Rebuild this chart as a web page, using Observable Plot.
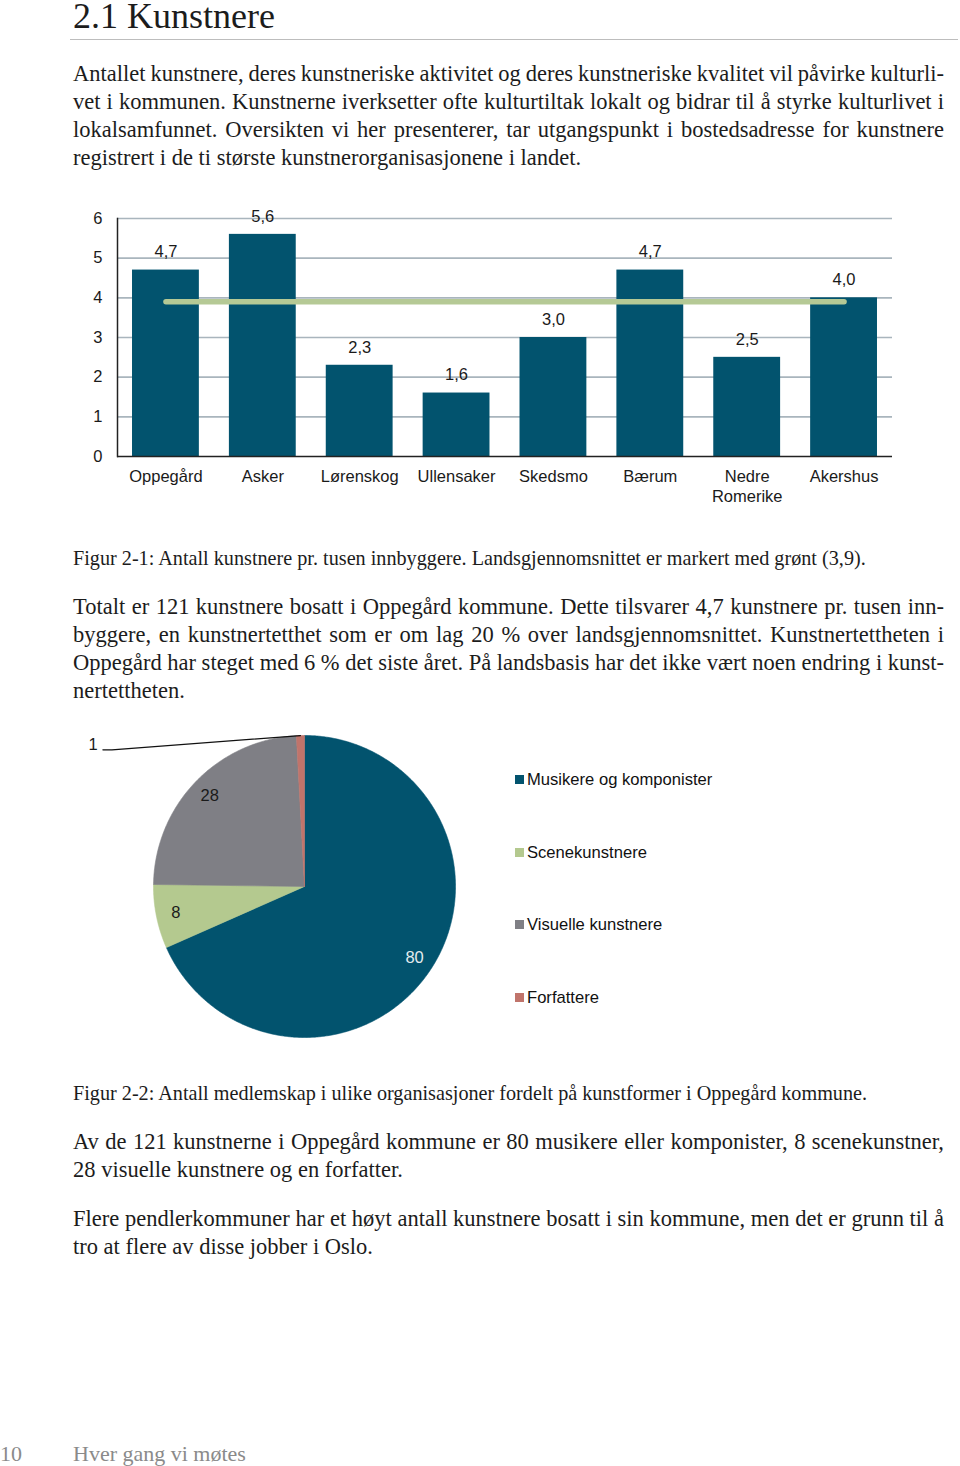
<!DOCTYPE html>
<html><head><meta charset="utf-8">
<script src="https://cdn.jsdelivr.net/npm/d3@7"></script>
<script src="https://cdn.jsdelivr.net/npm/@observablehq/plot@0.6"></script>
<style>
body{margin:0;background:#fff;}
#page{position:relative;width:960px;height:1466px;overflow:hidden;font-family:"Liberation Serif",serif;color:#1c1c1c;}
.ln{position:absolute;left:73px;width:871px;line-height:28px;height:28px;white-space:pre;}
.lg{position:absolute;left:515px;font-family:"Liberation Sans",Arial,sans-serif;font-size:16.6px;color:#111;line-height:20px;white-space:nowrap;}
.lg i{display:inline-block;width:9px;height:9px;margin-right:3px;vertical-align:1px;}
</style></head>
<body><div id="page"></div>
<script>
// ---- data ----
const kommuner = ["Oppegård","Asker","Lørenskog","Ullensaker","Skedsmo","Bærum","Nedre Romerike","Akershus"];
const tickLabels = ["Oppegård","Asker","Lørenskog","Ullensaker","Skedsmo","Bærum","Nedre\nRomerike","Akershus"];
const tetthet = [4.7,5.6,2.3,1.6,3.0,4.7,2.5,4.0];
const landsgjennomsnitt = 3.9;
const yTicks = [0,1,2,3,4,5,6];

const kunstformer = ["Musikere og komponister","Scenekunstnere","Visuelle kunstnere","Forfattere"];
const medlemskap = [80, 8, 28, 1];
const pieColors = ["#02536e","#b4c98f","#7f7f85","#c0746b"];

const title = "2.1 Kunstnere";
const para1 = ["Antallet kunstnere, deres kunstneriske aktivitet og deres kunstneriske kvalitet vil påvirke kulturli-",
"vet i kommunen. Kunstnerne iverksetter ofte kulturtiltak lokalt og bidrar til å styrke kulturlivet i",
"lokalsamfunnet. Oversikten vi her presenterer, tar utgangspunkt i bostedsadresse for kunstnere",
"registrert i de ti største kunstnerorganisasjonene i landet."];
const caption1 = "Figur 2-1: Antall kunstnere pr. tusen innbyggere. Landsgjennomsnittet er markert med grønt (3,9).";
const para2 = ["Totalt er 121 kunstnere bosatt i Oppegård kommune. Dette tilsvarer 4,7 kunstnere pr. tusen inn-",
"byggere, en kunstnertetthet som er om lag 20 % over landsgjennomsnittet. Kunstnertettheten i",
"Oppegård har steget med 6 % det siste året. På landsbasis har det ikke vært noen endring i kunst-",
"nertettheten."];
const caption2 = "Figur 2-2: Antall medlemskap i ulike organisasjoner fordelt på kunstformer i Oppegård kommune.";
const para3 = ["Av de 121 kunstnerne i Oppegård kommune er 80 musikere eller komponister, 8 scenekunstner,",
"28 visuelle kunstnere og en forfatter."];
const para4 = ["Flere pendlerkommuner har et høyt antall kunstnere bosatt i sin kommune, men det er grunn til å",
"tro at flere av disse jobber i Oslo."];
const footerPage = "10";
const footerTitle = "Hver gang vi møtes";

// ---- page text ----
const page = document.getElementById("page");
function el(tag, css, text){const e=document.createElement(tag); e.style.cssText=css; if(text!=null) e.textContent=text; page.appendChild(e); return e;}
const BODY = 22.5, CAP = 20.2, LW = 871;
function topFor(baseline, fs, lh){ return baseline - ((lh - 1.107*fs)/2 + 0.891*fs); }
function textLine(t, baseline, fs, justify){
  const d = el("div","top:"+topFor(baseline, fs, 28)+"px;font-size:"+fs+"px");
  d.className = "ln";
  const s = document.createElement("span"); s.textContent = t; d.appendChild(s);
  if (justify){
    const w = s.getBoundingClientRect().width;
    const n = (t.match(/ /g)||[]).length;
    if (n) d.style.wordSpacing = ((LW - w)/n) + "px";
  }
}
function para(lines, baseline0, fs){ lines.forEach((t,i)=>textLine(t, baseline0 + i*28, fs, i<lines.length-1)); }
el("div","position:absolute;left:73px;top:"+Math.max(0, topFor(28,36,30))+"px;font-size:36px;line-height:30px;white-space:nowrap;", title);
el("div","position:absolute;left:70px;top:39px;width:888px;height:0;border-top:1.5px solid #bdbdbd;");
para(para1, 82, BODY);
para([caption1], 565, CAP);
para(para2, 615, BODY);
para([caption2], 1100, CAP);
para(para3, 1150, BODY);
para(para4, 1227, BODY);
el("div","position:absolute;left:0;top:"+topFor(1461,22,28)+"px;font-size:22px;line-height:28px;color:#8a8a8a;white-space:nowrap;", footerPage);
el("div","position:absolute;left:73px;top:"+topFor(1461,22,28)+"px;font-size:22px;line-height:28px;color:#8a8a8a;white-space:nowrap;", footerTitle);

// ---- bar chart ----
const fmt = v => v.toFixed(1).replace(".", ",");
const barData = kommuner.map((k,i)=>({k, v: tetthet[i]}));
const bar = Plot.plot({
  width: 960, height: 320,
  marginLeft: 117, marginRight: 68, marginTop: 18, marginBottom: 64,
  style: {fontFamily: "'Liberation Sans', Arial, sans-serif", fontSize: "16.5px", color: "#1a1a1a", background: "transparent", overflow: "visible"},
  x: {domain: kommuner, paddingInner: 0.31, paddingOuter: 0.155, round: false, label: null},
  y: {domain: [0,6], label: null},
  marks: [
    Plot.ruleY(yTicks.filter(t=>t>0), {stroke: "#a9b5bd", strokeWidth: 1.6}),
    Plot.barY(barData, {x:"k", y:"v", fill: "#02536e"}),
    Plot.lineY(barData, {x:"k", y: () => landsgjennomsnitt, stroke:"#b5c995", strokeWidth: 5.5, strokeLinecap:"round"}),
    Plot.text(barData, {x:"k", y:"v", text: d=>fmt(d.v), dy: -18, fontSize: 16.5, fill:"#1a1a1a"}),
    Plot.axisY({ticks: yTicks, tickSize: 0, tickPadding: 15, fontSize: 16.5, tickFormat: d=>String(d), label: null}),
    Plot.axisX({tickSize: 0, tickPadding: 12, tickFormat: d=>tickLabels[kommuner.indexOf(d)], fontSize: 16.5, lineHeight: 1.17, label: null}),
    Plot.ruleY([0], {stroke:"#222", strokeWidth: 1.5}),
    Plot.frame({anchor:"left", stroke:"#222", strokeWidth: 1.5})
  ]
});
const barWrap = el("div","position:absolute;left:0;top:200px;");
barWrap.appendChild(bar);

// ---- pie chart ----
const arcs = d3.pie().sort(null).value(d=>d)(medlemskap);
const step = Math.PI/360;
const slices = arcs.map((a,i)=>{
  const pts=[{x:0,y:0}];
  for(let t=a.startAngle; t<a.endAngle; t+=step) pts.push({x:Math.sin(t), y:Math.cos(t)});
  pts.push({x:Math.sin(a.endAngle), y:Math.cos(a.endAngle)});
  pts.push({x:0,y:0});
  return pts;
});
const mid = a => (a.startAngle + a.endAngle)/2;
const inner = arcs.slice(0,3);
const outer = arcs[3];
const lead = [{x:-1.335,y:0.905},{x:-1.275,y:0.905},{x:Math.sin(mid(outer)),y:Math.cos(mid(outer))}];
const pie = Plot.plot({
  width: 480, height: 320, margin: 0,
  style: {fontFamily: "'Liberation Sans', Arial, sans-serif", fontSize: "16.5px", background: "transparent", overflow: "visible"},
  x: {domain: [-1,1], range: [153,455], axis: null},
  y: {domain: [-1,1], range: [307,5], axis: null},
  marks: [
    ...slices.map((pts,i)=>Plot.line(pts, {x:"x", y:"y", fill: pieColors[i], stroke: pieColors[i], strokeWidth: 0.6})),
    Plot.text(inner, {x: a=>0.87*Math.sin(mid(a)), y: a=>0.87*Math.cos(mid(a)), text: a=>String(a.value), fontSize: 16.5, fill: a=> a.index===0 ? "#e4ecef" : "#1a1a1a"}),
    Plot.line(lead, {x:"x", y:"y", stroke:"#111", strokeWidth: 1.3}),
    Plot.text([outer], {x: -1.40, y: 0.94, text: a=>String(a.value), fontSize: 16.5, fill:"#1a1a1a"})
  ]
});
const pieWrap = el("div","position:absolute;left:0;top:730px;");
pieWrap.appendChild(pie);

// legend
const legendY = [780, 853, 925, 998];
kunstformer.forEach((k,i)=>{
  const d = el("div","top:"+(legendY[i]-10)+"px");
  d.className="lg";
  const sw=document.createElement("i"); sw.style.background=pieColors[i];
  d.appendChild(sw); d.appendChild(document.createTextNode(k));
});
</script>
</body></html>
